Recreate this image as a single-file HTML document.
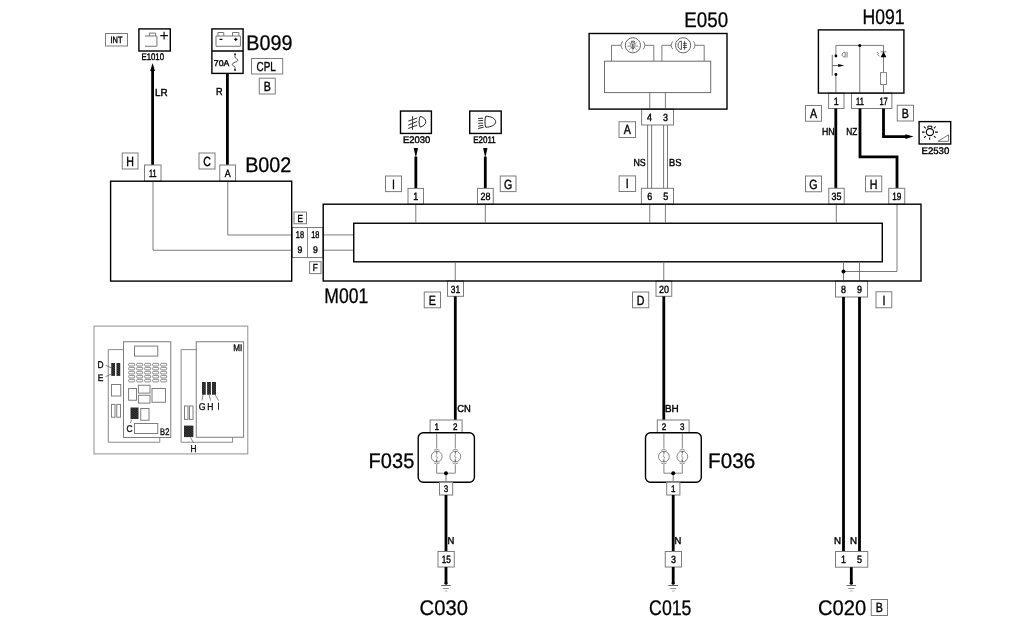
<!DOCTYPE html>
<html><head><meta charset="utf-8"><title>Wiring diagram</title>
<style>
html,body{margin:0;padding:0;background:#fff;}
body{width:1024px;height:625px;overflow:hidden;}
svg{display:block;font-family:"Liberation Sans",sans-serif;text-rendering:geometricPrecision;will-change:transform;filter:grayscale(1);}
</style></head><body>
<svg width="1024" height="625" viewBox="0 0 1024 625">
<rect x="0" y="0" width="1024" height="625" fill="#fff"/>
<rect x="105.50" y="33.50" width="22.00" height="12.50" fill="#fff" stroke="#7c7c7c" stroke-width="1"/>
<text transform="translate(116.50,43.08) scale(0.8,1)" text-anchor="middle" font-size="9.3" fill="#000" stroke="#000" stroke-width="0.4">INT</text>
<rect x="138.90" y="28.90" width="31.40" height="22.10" fill="none" stroke="#000" stroke-width="1.4"/>
<path d="M145,36 H156.9 V46.25 H145 M149.4,36 V33.1 H155.6 V36" fill="none" stroke="#777" stroke-width="1" />
<path d="M160.3,35.6 H167.9 M164.1,31.8 V39.4" fill="none" stroke="#000" stroke-width="1.1" />
<text x="141.47" y="60.35" font-size="9.6" textLength="22.49" lengthAdjust="spacingAndGlyphs" fill="#000" stroke="#000" stroke-width="0.4" font-weight="normal">E1010</text>
<path d="M152.60,69.00 L152.60,165.00" fill="none" stroke="#000" stroke-width="2.8" stroke-linejoin="miter"/>
<path d="M152.6,63 L155,71 L150.2,71 Z" fill="#000" stroke="none" stroke-width="0.9" />
<text x="154.94" y="95.55" font-size="10.2" textLength="12.66" lengthAdjust="spacingAndGlyphs" fill="#000" stroke="#000" stroke-width="0.4" font-weight="normal">LR</text>
<rect x="211.90" y="28.90" width="31.20" height="44.50" fill="none" stroke="#000" stroke-width="1.4"/>
<line x1="211.90" y1="51.00" x2="243.10" y2="51.00" stroke="#000" stroke-width="1.4"/>
<path d="M216,36 H240.4 V46.25 H216 Z M217.9,36 V32.5 H223.75 V36 M232.5,36 V32.5 H238.9 V36" fill="none" stroke="#777" stroke-width="1" />
<path d="M219.6,39.4 H222.4 M234.2,39.4 H237.4 M235.8,37.8 V41" fill="none" stroke="#000" stroke-width="1.1" />
<text x="213.86" y="65.70" font-size="8.3" textLength="15.40" lengthAdjust="spacingAndGlyphs" fill="#000" stroke="#000" stroke-width="0.4" font-weight="normal">70A</text>
<path d="M235,55 V56.9 C235,59 237.9,58.5 237.9,60.2 C237.9,62.3 232.3,62.2 232.3,64.4 C232.3,66.4 235,65.6 235,67.6 V69.4" fill="none" stroke="#444" stroke-width="0.9" />
<circle cx="235.00" cy="54.20" r="0.9" fill="#000" stroke="none" stroke-width="1"/>
<circle cx="235.00" cy="70.00" r="0.9" fill="#000" stroke="none" stroke-width="1"/>
<text x="246.34" y="49.70" font-size="21.2" textLength="46.10" lengthAdjust="spacingAndGlyphs" fill="#000" stroke="#000" stroke-width="0.3" font-weight="normal">B099</text>
<rect x="251.50" y="58.50" width="31.20" height="15.50" fill="#fff" stroke="#7c7c7c" stroke-width="1"/>
<text transform="translate(266.10,70.55) scale(0.76,1)" text-anchor="middle" font-size="13" fill="#000" stroke="#000" stroke-width="0.4">CPL</text>
<rect x="259.25" y="78.20" width="16.00" height="15.80" fill="#fff" stroke="#7c7c7c" stroke-width="1"/>
<text transform="translate(267.25,90.86) scale(0.8,1)" text-anchor="middle" font-size="13.3" fill="#000" stroke="#000" stroke-width="0.4">B</text>
<path d="M227.40,73.40 L227.40,165.00" fill="none" stroke="#000" stroke-width="2.8" stroke-linejoin="miter"/>
<text x="215.95" y="95.05" font-size="10.2" textLength="6.58" lengthAdjust="spacingAndGlyphs" fill="#000" stroke="#000" stroke-width="0.4" font-weight="normal">R</text>
<rect x="122.25" y="153.00" width="15.75" height="16.00" fill="#fff" stroke="#7c7c7c" stroke-width="1"/>
<text transform="translate(130.12,165.76) scale(0.8,1)" text-anchor="middle" font-size="13.3" fill="#000" stroke="#000" stroke-width="0.4">H</text>
<rect x="199.00" y="153.00" width="16.00" height="16.00" fill="#fff" stroke="#7c7c7c" stroke-width="1"/>
<text transform="translate(207.00,165.76) scale(0.8,1)" text-anchor="middle" font-size="13.3" fill="#000" stroke="#000" stroke-width="0.4">C</text>
<rect x="144.50" y="165.00" width="16.50" height="16.20" fill="#fff" stroke="#7c7c7c" stroke-width="1"/>
<text transform="translate(152.75,177.21) scale(0.7,1)" text-anchor="middle" font-size="10.5" fill="#000" stroke="#000" stroke-width="0.4">11</text>
<rect x="219.75" y="165.00" width="15.75" height="16.20" fill="#fff" stroke="#7c7c7c" stroke-width="1"/>
<text transform="translate(227.60,177.21) scale(0.85,1)" text-anchor="middle" font-size="10.5" fill="#000" stroke="#000" stroke-width="0.4">A</text>
<text x="245.15" y="172.20" font-size="21.2" textLength="46.21" lengthAdjust="spacingAndGlyphs" fill="#000" stroke="#000" stroke-width="0.3" font-weight="normal">B002</text>
<path d="M153,181.9 V250.25 H292.25" fill="none" stroke="#6c6c6c" stroke-width="0.9" />
<path d="M227.75,181.9 V235 H292.25" fill="none" stroke="#6c6c6c" stroke-width="0.9" />
<rect x="294.00" y="212.00" width="12.50" height="11.75" fill="#fff" stroke="#7c7c7c" stroke-width="1"/>
<text transform="translate(300.25,221.53) scale(0.8,1)" text-anchor="middle" font-size="10.2" fill="#000" stroke="#000" stroke-width="0.4">E</text>
<rect x="292.25" y="227.50" width="30.75" height="30.00" fill="#fff" stroke="#7c7c7c" stroke-width="1"/>
<line x1="307.50" y1="227.50" x2="307.50" y2="257.50" stroke="#7c7c7c" stroke-width="0.9"/>
<text transform="translate(299.90,238.40) scale(0.75,1)" text-anchor="middle" font-size="9.8" fill="#000" stroke="#000" stroke-width="0.4">18</text>
<text transform="translate(299.90,253.40) scale(0.88,1)" text-anchor="middle" font-size="9.8" fill="#000" stroke="#000" stroke-width="0.4">9</text>
<text transform="translate(315.30,238.40) scale(0.75,1)" text-anchor="middle" font-size="9.8" fill="#000" stroke="#000" stroke-width="0.4">18</text>
<text transform="translate(315.30,253.40) scale(0.88,1)" text-anchor="middle" font-size="9.8" fill="#000" stroke="#000" stroke-width="0.4">9</text>
<rect x="309.60" y="261.70" width="11.40" height="11.90" fill="#fff" stroke="#7c7c7c" stroke-width="1"/>
<text transform="translate(315.30,271.30) scale(0.8,1)" text-anchor="middle" font-size="10.2" fill="#000" stroke="#000" stroke-width="0.4">F</text>
<rect x="353.75" y="223.25" width="528.55" height="38.55" fill="none" stroke="#000" stroke-width="1.4"/>
<text x="324.31" y="302.50" font-size="21.2" textLength="43.89" lengthAdjust="spacingAndGlyphs" fill="#000" stroke="#000" stroke-width="0.3" font-weight="normal">M001</text>
<line x1="323.90" y1="234.90" x2="353.00" y2="234.90" stroke="#6c6c6c" stroke-width="0.9"/>
<line x1="323.90" y1="250.20" x2="353.00" y2="250.20" stroke="#6c6c6c" stroke-width="0.9"/>
<line x1="415.80" y1="204.90" x2="415.80" y2="222.60" stroke="#6c6c6c" stroke-width="0.9"/>
<line x1="485.30" y1="204.90" x2="485.30" y2="222.60" stroke="#6c6c6c" stroke-width="0.9"/>
<line x1="649.75" y1="204.90" x2="649.75" y2="222.60" stroke="#6c6c6c" stroke-width="0.9"/>
<line x1="665.40" y1="204.90" x2="665.40" y2="222.60" stroke="#6c6c6c" stroke-width="0.9"/>
<line x1="836.30" y1="204.90" x2="836.30" y2="222.60" stroke="#6c6c6c" stroke-width="0.9"/>
<line x1="455.25" y1="262.50" x2="455.25" y2="280.30" stroke="#6c6c6c" stroke-width="0.9"/>
<line x1="663.75" y1="262.50" x2="663.75" y2="280.30" stroke="#6c6c6c" stroke-width="0.9"/>
<line x1="843.50" y1="262.50" x2="843.50" y2="280.30" stroke="#6c6c6c" stroke-width="0.9"/>
<line x1="859.50" y1="262.50" x2="859.50" y2="280.30" stroke="#6c6c6c" stroke-width="0.9"/>
<path d="M897,204.9 V271.5 H843.5" fill="none" stroke="#6c6c6c" stroke-width="0.9" />
<circle cx="843.50" cy="271.50" r="2.0" fill="#000" stroke="none" stroke-width="1"/>
<rect x="400.50" y="111.05" width="30.90" height="22.40" fill="none" stroke="#000" stroke-width="1.4"/>
<path d="M420.2,116.4 C418.7,119 418.7,124.4 420.2,127.1 C423.5,126.4 425.8,124 425.8,121.7 C425.8,119.5 423.5,117 420.2,116.4 Z" fill="none" stroke="#222" stroke-width="1" />
<path d="M417.2,118 L408.3,121.1 M417.2,121.4 L408.2,125.2 M417.2,125.2 L408.2,128.5 M412.7,116.1 C412.2,119 413,122 412.4,125 C412.2,127 412.7,128.5 412.5,129.8" fill="none" stroke="#222" stroke-width="0.95" />
<text x="403.03" y="142.90" font-size="9.6" textLength="27.32" lengthAdjust="spacingAndGlyphs" fill="#000" stroke="#000" stroke-width="0.4" font-weight="normal">E2030</text>
<rect x="469.70" y="111.05" width="31.50" height="22.40" fill="none" stroke="#000" stroke-width="1.4"/>
<path d="M485.7,116.3 C484.7,119 484.7,124.5 485.7,127.2 C490.6,127.3 495.7,125 495.7,121.7 C495.7,118.5 490.6,116.1 485.7,116.3 Z" fill="none" stroke="#222" stroke-width="1" />
<path d="M483.1,118.2 L478.1,118.5 M483.1,120.4 L478.2,120.8 M483.1,123.1 L478.2,123.4 M483.2,125.3 L478.2,126.2 M483.7,127.2 L478.2,128.5" fill="none" stroke="#222" stroke-width="0.95" />
<text x="473.15" y="142.90" font-size="9.6" textLength="22.60" lengthAdjust="spacingAndGlyphs" fill="#000" stroke="#000" stroke-width="0.4" font-weight="normal">E2011</text>
<path d="M415.85,156.60 L415.85,188.50" fill="none" stroke="#000" stroke-width="2.8" stroke-linejoin="miter"/>
<path d="M413.65000000000003,148.1 H418.05 L416.1,156.8 H415.6 Z" fill="#000" stroke="none" stroke-width="0.9" />
<path d="M485.30,156.60 L485.30,188.50" fill="none" stroke="#000" stroke-width="2.8" stroke-linejoin="miter"/>
<path d="M483.1,148.1 H487.5 L485.55,156.8 H485.05 Z" fill="#000" stroke="none" stroke-width="0.9" />
<rect x="385.50" y="176.00" width="16.00" height="15.60" fill="#fff" stroke="#7c7c7c" stroke-width="1"/>
<text transform="translate(393.50,188.56) scale(0.8,1)" text-anchor="middle" font-size="13.3" fill="#000" stroke="#000" stroke-width="0.4">I</text>
<rect x="500.25" y="176.00" width="15.75" height="15.60" fill="#fff" stroke="#7c7c7c" stroke-width="1"/>
<text transform="translate(508.12,188.56) scale(0.8,1)" text-anchor="middle" font-size="13.3" fill="#000" stroke="#000" stroke-width="0.4">G</text>
<rect x="408.00" y="188.40" width="15.50" height="15.80" fill="#fff" stroke="#7c7c7c" stroke-width="1"/>
<text transform="translate(415.80,200.41) scale(0.85,1)" text-anchor="middle" font-size="10.5" fill="#000" stroke="#000" stroke-width="0.4">1</text>
<rect x="477.50" y="188.40" width="15.75" height="15.80" fill="#fff" stroke="#7c7c7c" stroke-width="1"/>
<text transform="translate(485.40,200.41) scale(0.85,1)" text-anchor="middle" font-size="10.5" fill="#000" stroke="#000" stroke-width="0.4">28</text>
<text x="684.34" y="27.00" font-size="21.2" textLength="43.85" lengthAdjust="spacingAndGlyphs" fill="#000" stroke="#000" stroke-width="0.3" font-weight="normal">E050</text>
<rect x="604.50" y="61.20" width="106.20" height="31.40" fill="none" stroke="#6c6c6c" stroke-width="1"/>
<path d="M611.5,61.2 V45.3 H620.8 M645.0,45.3 H653.8 V61.2" fill="none" stroke="#6c6c6c" stroke-width="0.9" />
<circle cx="632.90" cy="45.30" r="7.6" fill="none" stroke="#666" stroke-width="1"/>
<path d="M622.6,41.3 Q619.3,45.3 622.6,49.2 M643.1999999999999,41.3 Q646.5,45.3 643.1999999999999,49.2" fill="none" stroke="#666" stroke-width="0.9" />
<path d="M661.9,61.2 V45.3 H671.0 M695.2,45.3 H704.2 V61.2" fill="none" stroke="#6c6c6c" stroke-width="0.9" />
<circle cx="683.10" cy="45.30" r="7.6" fill="none" stroke="#666" stroke-width="1"/>
<path d="M672.8000000000001,41.3 Q669.5,45.3 672.8000000000001,49.2 M693.4,41.3 Q696.7,45.3 693.4,49.2" fill="none" stroke="#666" stroke-width="0.9" />
<ellipse cx="632.9" cy="45.3" rx="2.2" ry="3.4" fill="none" stroke="#444" stroke-width="0.8"/>
<path d="M631.3,42.4 V41.2 H634.5 V42.4" fill="none" stroke="#444" stroke-width="0.8" />
<path d="M632.9,43.4 V48.6" fill="none" stroke="#222" stroke-width="1.1" />
<path d="M632.9,48.8 V51.6" fill="none" stroke="#888" stroke-width="0.8" />
<path d="M627.3,46.2 H629.9 M635.9,46.2 H638.4 M628.7,42.3 L630.4,43.8 M637,42.3 L635.4,43.8 M629,49.8 L630.4,48.6 M636.7,49.8 L635.3,48.6" fill="none" stroke="#666" stroke-width="0.7" />
<path d="M681.4,41.1 V49.5 C676.9,49.3 676.9,41.3 681.4,41.1 Z" fill="none" stroke="#444" stroke-width="0.9" />
<path d="M684.6,40.9 V49.8 M683,43.4 H686.9 M683,45.4 H686.9 M683,47.5 H686.9" fill="none" stroke="#333" stroke-width="0.85" />
<line x1="649.75" y1="92.60" x2="649.75" y2="108.40" stroke="#6c6c6c" stroke-width="0.9"/>
<line x1="665.40" y1="92.60" x2="665.40" y2="108.40" stroke="#6c6c6c" stroke-width="0.9"/>
<rect x="641.60" y="109.20" width="31.90" height="15.80" fill="#fff" stroke="#7c7c7c" stroke-width="1"/>
<text transform="translate(649.60,121.21) scale(0.85,1)" text-anchor="middle" font-size="10.5" fill="#000" stroke="#000" stroke-width="0.4">4</text>
<text transform="translate(665.60,121.21) scale(0.85,1)" text-anchor="middle" font-size="10.5" fill="#000" stroke="#000" stroke-width="0.4">3</text>
<rect x="619.00" y="121.75" width="16.50" height="15.75" fill="#fff" stroke="#7c7c7c" stroke-width="1"/>
<text transform="translate(627.25,134.39) scale(0.8,1)" text-anchor="middle" font-size="13.3" fill="#000" stroke="#000" stroke-width="0.4">A</text>
<line x1="647.60" y1="125.00" x2="647.60" y2="188.30" stroke="#777" stroke-width="1"/>
<line x1="651.60" y1="125.00" x2="651.60" y2="188.30" stroke="#777" stroke-width="1"/>
<line x1="663.60" y1="125.00" x2="663.60" y2="188.30" stroke="#777" stroke-width="1"/>
<line x1="667.50" y1="125.00" x2="667.50" y2="188.30" stroke="#777" stroke-width="1"/>
<text x="633.43" y="166.15" font-size="10.2" textLength="12.25" lengthAdjust="spacingAndGlyphs" fill="#000" stroke="#000" stroke-width="0.4" font-weight="normal">NS</text>
<text x="669.12" y="166.15" font-size="10.2" textLength="12.50" lengthAdjust="spacingAndGlyphs" fill="#000" stroke="#000" stroke-width="0.4" font-weight="normal">BS</text>
<rect x="619.10" y="175.90" width="16.50" height="15.60" fill="#fff" stroke="#7c7c7c" stroke-width="1"/>
<text transform="translate(627.35,188.46) scale(0.8,1)" text-anchor="middle" font-size="13.3" fill="#000" stroke="#000" stroke-width="0.4">I</text>
<rect x="641.40" y="188.30" width="32.10" height="15.90" fill="#fff" stroke="#7c7c7c" stroke-width="1"/>
<text transform="translate(649.75,200.36) scale(0.85,1)" text-anchor="middle" font-size="10.5" fill="#000" stroke="#000" stroke-width="0.4">6</text>
<text transform="translate(665.75,200.36) scale(0.85,1)" text-anchor="middle" font-size="10.5" fill="#000" stroke="#000" stroke-width="0.4">5</text>
<text x="862.43" y="24.00" font-size="21.2" textLength="42.08" lengthAdjust="spacingAndGlyphs" fill="#000" stroke="#000" stroke-width="0.3" font-weight="normal">H091</text>
<path d="M835.9,56 V45.4 H883.5 V93 M859.75,45.4 V93 M835.9,74.5 V93" fill="none" stroke="#6c6c6c" stroke-width="0.9" />
<circle cx="859.75" cy="45.40" r="1.5" fill="#000" stroke="none" stroke-width="1"/>
<circle cx="835.90" cy="56.00" r="1.4" fill="#000" stroke="none" stroke-width="1"/>
<circle cx="835.90" cy="74.50" r="1.4" fill="#000" stroke="none" stroke-width="1"/>
<path d="M832.25,55 V75.75 M832.25,65.5 H839" fill="none" stroke="#5a5a5a" stroke-width="0.85" />
<path d="M838.2,64.0 L844.4,65.5 L838.2,67.0 Z" fill="#000" stroke="none" stroke-width="0.9" />
<path d="M845.2,52.2 C841,52.6 841,56.9 845.2,57.2 Z M847.1,52 V57.4" fill="none" stroke="#555" stroke-width="0.75" />
<path d="M883.5,51.6 L886.4,57.25 H880.6 Z" fill="#000" stroke="none" stroke-width="0.9" />
<line x1="880.60" y1="51.80" x2="886.50" y2="51.80" stroke="#444" stroke-width="0.7"/>
<path d="M876.8,52 L878.8,54 M877.4,54.4 L879.4,56.2" fill="none" stroke="#444" stroke-width="0.7" />
<rect x="880.50" y="72.60" width="6.00" height="11.90" fill="#fff" stroke="#858585" stroke-width="1"/>
<rect x="828.60" y="93.10" width="15.40" height="15.40" fill="#fff" stroke="#7c7c7c" stroke-width="1"/>
<text transform="translate(836.20,104.91) scale(0.85,1)" text-anchor="middle" font-size="10.5" fill="#000" stroke="#000" stroke-width="0.4">1</text>
<rect x="851.50" y="93.10" width="40.40" height="15.40" fill="#fff" stroke="#7c7c7c" stroke-width="1"/>
<text transform="translate(860.00,104.91) scale(0.72,1)" text-anchor="middle" font-size="10.5" fill="#000" stroke="#000" stroke-width="0.4">11</text>
<text transform="translate(883.60,104.91) scale(0.72,1)" text-anchor="middle" font-size="10.5" fill="#000" stroke="#000" stroke-width="0.4">17</text>
<rect x="805.50" y="105.50" width="16.00" height="15.75" fill="#fff" stroke="#7c7c7c" stroke-width="1"/>
<text transform="translate(813.50,118.14) scale(0.8,1)" text-anchor="middle" font-size="13.3" fill="#000" stroke="#000" stroke-width="0.4">A</text>
<rect x="897.25" y="105.25" width="16.25" height="15.75" fill="#fff" stroke="#7c7c7c" stroke-width="1"/>
<text transform="translate(905.38,117.89) scale(0.8,1)" text-anchor="middle" font-size="13.3" fill="#000" stroke="#000" stroke-width="0.4">B</text>
<path d="M835.80,108.50 L835.80,188.30" fill="none" stroke="#000" stroke-width="2.8" stroke-linejoin="miter"/>
<path d="M860.00,108.50 L860.00,156.80 L897.00,156.80 L897.00,188.30" fill="none" stroke="#000" stroke-width="2.8" stroke-linejoin="miter"/>
<path d="M883.50,108.50 L883.50,136.60 L907.00,136.60" fill="none" stroke="#000" stroke-width="2.8" stroke-linejoin="miter"/>
<path d="M905.4,134.3 L913.6,136.6 L905.4,138.9 Z" fill="#000" stroke="none" stroke-width="0.9" />
<text x="822.04" y="134.55" font-size="10.2" textLength="12.68" lengthAdjust="spacingAndGlyphs" fill="#000" stroke="#000" stroke-width="0.4" font-weight="normal">HN</text>
<text x="846.33" y="134.55" font-size="10.2" textLength="11.06" lengthAdjust="spacingAndGlyphs" fill="#000" stroke="#000" stroke-width="0.4" font-weight="normal">NZ</text>
<rect x="919.10" y="121.60" width="31.60" height="22.40" fill="none" stroke="#000" stroke-width="1.4"/>
<ellipse cx="929.9" cy="132.1" rx="3.65" ry="3.55" fill="none" stroke="#000" stroke-width="1.15"/>
<path d="M927.9,128.4 V126.2 H931.8 V128.4" fill="none" stroke="#000" stroke-width="1" />
<path d="M922,132.1 H924.6 M935.1,132.1 H937.8 M929.7,137.6 V139.8 M924,126.5 L925.7,128.3 M935.6,126.5 L934,128.3 M924.2,137.6 L925.8,136.1 M935.6,137.6 L934,136.1" fill="none" stroke="#000" stroke-width="1.05" />
<path d="M937.9,141.3 H948.6 V134.8 Z" fill="none" stroke="#666" stroke-width="0.9" />
<text x="921.59" y="153.50" font-size="9.6" textLength="27.64" lengthAdjust="spacingAndGlyphs" fill="#000" stroke="#000" stroke-width="0.4" font-weight="normal">E2530</text>
<rect x="805.50" y="176.00" width="16.00" height="15.75" fill="#fff" stroke="#7c7c7c" stroke-width="1"/>
<text transform="translate(813.50,188.64) scale(0.8,1)" text-anchor="middle" font-size="13.3" fill="#000" stroke="#000" stroke-width="0.4">G</text>
<rect x="865.50" y="176.00" width="16.25" height="15.75" fill="#fff" stroke="#7c7c7c" stroke-width="1"/>
<text transform="translate(873.62,188.64) scale(0.8,1)" text-anchor="middle" font-size="13.3" fill="#000" stroke="#000" stroke-width="0.4">H</text>
<rect x="828.75" y="188.30" width="15.50" height="15.90" fill="#fff" stroke="#7c7c7c" stroke-width="1"/>
<text transform="translate(836.50,200.36) scale(0.85,1)" text-anchor="middle" font-size="10.5" fill="#000" stroke="#000" stroke-width="0.4">35</text>
<rect x="888.75" y="188.30" width="16.00" height="15.90" fill="#fff" stroke="#7c7c7c" stroke-width="1"/>
<text transform="translate(896.80,200.36) scale(0.78,1)" text-anchor="middle" font-size="10.5" fill="#000" stroke="#000" stroke-width="0.4">19</text>
<rect x="447.50" y="281.00" width="16.00" height="15.30" fill="#fff" stroke="#7c7c7c" stroke-width="1"/>
<text transform="translate(455.50,292.76) scale(0.8,1)" text-anchor="middle" font-size="10.5" fill="#000" stroke="#000" stroke-width="0.4">31</text>
<rect x="424.25" y="292.00" width="16.25" height="15.75" fill="#fff" stroke="#7c7c7c" stroke-width="1"/>
<text transform="translate(432.38,304.64) scale(0.8,1)" text-anchor="middle" font-size="13.3" fill="#000" stroke="#000" stroke-width="0.4">E</text>
<path d="M455.30,296.30 L455.30,420.00" fill="none" stroke="#000" stroke-width="2.8" stroke-linejoin="miter"/>
<text x="457.18" y="412.15" font-size="10.2" textLength="13.60" lengthAdjust="spacingAndGlyphs" fill="#000" stroke="#000" stroke-width="0.4" font-weight="normal">CN</text>
<rect x="656.00" y="281.00" width="15.75" height="15.30" fill="#fff" stroke="#7c7c7c" stroke-width="1"/>
<text transform="translate(663.90,292.76) scale(0.85,1)" text-anchor="middle" font-size="10.5" fill="#000" stroke="#000" stroke-width="0.4">20</text>
<rect x="632.50" y="292.00" width="16.25" height="15.75" fill="#fff" stroke="#7c7c7c" stroke-width="1"/>
<text transform="translate(640.62,304.64) scale(0.8,1)" text-anchor="middle" font-size="13.3" fill="#000" stroke="#000" stroke-width="0.4">D</text>
<path d="M663.80,296.30 L663.80,420.00" fill="none" stroke="#000" stroke-width="2.8" stroke-linejoin="miter"/>
<text x="664.93" y="412.15" font-size="10.2" textLength="13.81" lengthAdjust="spacingAndGlyphs" fill="#000" stroke="#000" stroke-width="0.4" font-weight="normal">BH</text>
<rect x="835.50" y="281.00" width="32.00" height="16.00" fill="#fff" stroke="#7c7c7c" stroke-width="1"/>
<text transform="translate(843.50,293.11) scale(0.85,1)" text-anchor="middle" font-size="10.5" fill="#000" stroke="#000" stroke-width="0.4">8</text>
<text transform="translate(859.50,293.11) scale(0.85,1)" text-anchor="middle" font-size="10.5" fill="#000" stroke="#000" stroke-width="0.4">9</text>
<rect x="876.00" y="291.75" width="15.75" height="16.00" fill="#fff" stroke="#7c7c7c" stroke-width="1"/>
<text transform="translate(883.88,304.51) scale(0.8,1)" text-anchor="middle" font-size="13.3" fill="#000" stroke="#000" stroke-width="0.4">I</text>
<path d="M843.50,297.00 L843.50,551.50" fill="none" stroke="#000" stroke-width="2.8" stroke-linejoin="miter"/>
<path d="M859.50,297.00 L859.50,551.50" fill="none" stroke="#000" stroke-width="2.8" stroke-linejoin="miter"/>
<rect x="430.10" y="420.00" width="32.00" height="13.00" fill="#fff" stroke="#7c7c7c" stroke-width="1"/>
<text transform="translate(436.70,430.25) scale(0.85,1)" text-anchor="middle" font-size="9.5" fill="#000" stroke="#000" stroke-width="0.4">1</text>
<text transform="translate(455.30,430.25) scale(0.85,1)" text-anchor="middle" font-size="9.5" fill="#000" stroke="#000" stroke-width="0.4">2</text>
<rect x="418.20" y="432.80" width="56.20" height="49.40" fill="#fff" stroke="#000" stroke-width="1.4" rx="5"/>
<line x1="436.70" y1="433.50" x2="436.70" y2="448.60" stroke="#777" stroke-width="0.9"/>
<circle cx="436.70" cy="456.60" r="5.4" fill="none" stroke="#777" stroke-width="0.9"/>
<path d="M433.9,450.3 Q436.7,448.2 439.5,450.3 M433.9,463 Q436.7,465 439.5,463" fill="none" stroke="#777" stroke-width="0.8" />
<path d="M436.7,451.2 V453.6 M436.7,459.6 V462" fill="none" stroke="#555" stroke-width="1.1" />
<path d="M437.09999999999997,453.8 L435.8,456.4 L437.5,457 L436.4,459.6" fill="none" stroke="#888" stroke-width="0.7" />
<line x1="436.70" y1="464.60" x2="436.70" y2="473.20" stroke="#777" stroke-width="0.9"/>
<line x1="455.30" y1="433.50" x2="455.30" y2="448.60" stroke="#777" stroke-width="0.9"/>
<circle cx="455.30" cy="456.60" r="5.4" fill="none" stroke="#777" stroke-width="0.9"/>
<path d="M452.5,450.3 Q455.3,448.2 458.1,450.3 M452.5,463 Q455.3,465 458.1,463" fill="none" stroke="#777" stroke-width="0.8" />
<path d="M455.3,451.2 V453.6 M455.3,459.6 V462" fill="none" stroke="#555" stroke-width="1.1" />
<path d="M455.7,453.8 L454.40000000000003,456.4 L456.1,457 L455.0,459.6" fill="none" stroke="#888" stroke-width="0.7" />
<line x1="455.30" y1="464.60" x2="455.30" y2="473.20" stroke="#777" stroke-width="0.9"/>
<line x1="436.70" y1="473.20" x2="455.30" y2="473.20" stroke="#777" stroke-width="0.9"/>
<line x1="446.00" y1="473.20" x2="446.00" y2="481.50" stroke="#888" stroke-width="1.1"/>
<circle cx="446.00" cy="473.20" r="2" fill="#000" stroke="none" stroke-width="1"/>
<rect x="439.50" y="482.20" width="13.20" height="12.80" fill="#fff" stroke="#7c7c7c" stroke-width="1"/>
<text transform="translate(446.00,492.35) scale(0.85,1)" text-anchor="middle" font-size="9.5" fill="#000" stroke="#000" stroke-width="0.4">3</text>
<rect x="657.30" y="420.00" width="31.80" height="13.00" fill="#fff" stroke="#7c7c7c" stroke-width="1"/>
<text transform="translate(663.90,430.25) scale(0.85,1)" text-anchor="middle" font-size="9.5" fill="#000" stroke="#000" stroke-width="0.4">2</text>
<text transform="translate(682.30,430.25) scale(0.85,1)" text-anchor="middle" font-size="9.5" fill="#000" stroke="#000" stroke-width="0.4">3</text>
<rect x="645.50" y="432.80" width="55.80" height="49.40" fill="#fff" stroke="#000" stroke-width="1.4" rx="5"/>
<line x1="663.90" y1="433.50" x2="663.90" y2="448.60" stroke="#777" stroke-width="0.9"/>
<circle cx="663.90" cy="456.60" r="5.4" fill="none" stroke="#777" stroke-width="0.9"/>
<path d="M661.1,450.3 Q663.9,448.2 666.6999999999999,450.3 M661.1,463 Q663.9,465 666.6999999999999,463" fill="none" stroke="#777" stroke-width="0.8" />
<path d="M663.9,451.2 V453.6 M663.9,459.6 V462" fill="none" stroke="#555" stroke-width="1.1" />
<path d="M664.3,453.8 L663.0,456.4 L664.6999999999999,457 L663.6,459.6" fill="none" stroke="#888" stroke-width="0.7" />
<line x1="663.90" y1="464.60" x2="663.90" y2="473.20" stroke="#777" stroke-width="0.9"/>
<line x1="682.30" y1="433.50" x2="682.30" y2="448.60" stroke="#777" stroke-width="0.9"/>
<circle cx="682.30" cy="456.60" r="5.4" fill="none" stroke="#777" stroke-width="0.9"/>
<path d="M679.5,450.3 Q682.3,448.2 685.0999999999999,450.3 M679.5,463 Q682.3,465 685.0999999999999,463" fill="none" stroke="#777" stroke-width="0.8" />
<path d="M682.3,451.2 V453.6 M682.3,459.6 V462" fill="none" stroke="#555" stroke-width="1.1" />
<path d="M682.6999999999999,453.8 L681.4,456.4 L683.0999999999999,457 L682.0,459.6" fill="none" stroke="#888" stroke-width="0.7" />
<line x1="682.30" y1="464.60" x2="682.30" y2="473.20" stroke="#777" stroke-width="0.9"/>
<line x1="663.90" y1="473.20" x2="682.30" y2="473.20" stroke="#777" stroke-width="0.9"/>
<line x1="673.20" y1="473.20" x2="673.20" y2="481.50" stroke="#888" stroke-width="1.1"/>
<circle cx="673.20" cy="473.20" r="2" fill="#000" stroke="none" stroke-width="1"/>
<rect x="666.70" y="482.20" width="13.20" height="12.80" fill="#fff" stroke="#7c7c7c" stroke-width="1"/>
<text transform="translate(673.20,492.35) scale(0.85,1)" text-anchor="middle" font-size="9.5" fill="#000" stroke="#000" stroke-width="0.4">1</text>
<text x="368.62" y="467.70" font-size="21.2" textLength="45.68" lengthAdjust="spacingAndGlyphs" fill="#000" stroke="#000" stroke-width="0.3" font-weight="normal">F035</text>
<text x="708.08" y="467.70" font-size="21.2" textLength="47.08" lengthAdjust="spacingAndGlyphs" fill="#000" stroke="#000" stroke-width="0.3" font-weight="normal">F036</text>
<path d="M446.00,495.00 L446.00,551.50" fill="none" stroke="#000" stroke-width="2.8" stroke-linejoin="miter"/>
<text x="447.52" y="543.95" font-size="9.9" textLength="6.81" lengthAdjust="spacingAndGlyphs" fill="#000" stroke="#000" stroke-width="0.4" font-weight="normal">N</text>
<rect x="438.00" y="551.50" width="16.25" height="15.50" fill="#fff" stroke="#7c7c7c" stroke-width="1"/>
<text transform="translate(446.20,563.36) scale(0.78,1)" text-anchor="middle" font-size="10.5" fill="#000" stroke="#000" stroke-width="0.4">15</text>
<path d="M446.00,567.00 L446.00,583.00" fill="none" stroke="#000" stroke-width="2.8" stroke-linejoin="miter"/>
<circle cx="446.00" cy="583.20" r="1.6" fill="#000" stroke="none" stroke-width="1"/>
<line x1="441.20" y1="585.50" x2="450.80" y2="585.50" stroke="#555" stroke-width="0.9"/>
<line x1="442.90" y1="588.50" x2="449.10" y2="588.50" stroke="#777" stroke-width="0.8"/>
<line x1="444.70" y1="591.00" x2="447.30" y2="591.00" stroke="#999" stroke-width="0.8"/>
<text x="419.62" y="615.00" font-size="21.2" textLength="48.28" lengthAdjust="spacingAndGlyphs" fill="#000" stroke="#000" stroke-width="0.3" font-weight="normal">C030</text>
<path d="M673.20,495.00 L673.20,551.50" fill="none" stroke="#000" stroke-width="2.8" stroke-linejoin="miter"/>
<text x="674.52" y="543.95" font-size="9.9" textLength="6.81" lengthAdjust="spacingAndGlyphs" fill="#000" stroke="#000" stroke-width="0.4" font-weight="normal">N</text>
<rect x="665.25" y="551.50" width="16.25" height="15.50" fill="#fff" stroke="#7c7c7c" stroke-width="1"/>
<text transform="translate(673.40,563.36) scale(0.85,1)" text-anchor="middle" font-size="10.5" fill="#000" stroke="#000" stroke-width="0.4">3</text>
<path d="M673.20,567.00 L673.20,583.00" fill="none" stroke="#000" stroke-width="2.8" stroke-linejoin="miter"/>
<circle cx="673.20" cy="583.20" r="1.6" fill="#000" stroke="none" stroke-width="1"/>
<line x1="668.40" y1="585.50" x2="678.00" y2="585.50" stroke="#555" stroke-width="0.9"/>
<line x1="670.10" y1="588.50" x2="676.30" y2="588.50" stroke="#777" stroke-width="0.8"/>
<line x1="671.90" y1="591.00" x2="674.50" y2="591.00" stroke="#999" stroke-width="0.8"/>
<text x="649.08" y="615.00" font-size="21.2" textLength="42.39" lengthAdjust="spacingAndGlyphs" fill="#000" stroke="#000" stroke-width="0.3" font-weight="normal">C015</text>
<text x="834.11" y="543.80" font-size="9.9" textLength="7.04" lengthAdjust="spacingAndGlyphs" fill="#000" stroke="#000" stroke-width="0.4" font-weight="normal">N</text>
<text x="850.11" y="543.80" font-size="9.9" textLength="7.04" lengthAdjust="spacingAndGlyphs" fill="#000" stroke="#000" stroke-width="0.4" font-weight="normal">N</text>
<rect x="835.50" y="551.50" width="32.25" height="15.70" fill="#fff" stroke="#7c7c7c" stroke-width="1"/>
<text transform="translate(843.50,563.46) scale(0.85,1)" text-anchor="middle" font-size="10.5" fill="#000" stroke="#000" stroke-width="0.4">1</text>
<text transform="translate(859.60,563.46) scale(0.85,1)" text-anchor="middle" font-size="10.5" fill="#000" stroke="#000" stroke-width="0.4">5</text>
<path d="M851.30,567.20 L851.30,583.00" fill="none" stroke="#000" stroke-width="2.8" stroke-linejoin="miter"/>
<circle cx="851.30" cy="583.20" r="1.6" fill="#000" stroke="none" stroke-width="1"/>
<line x1="846.50" y1="585.50" x2="856.10" y2="585.50" stroke="#555" stroke-width="0.9"/>
<line x1="848.20" y1="588.50" x2="854.40" y2="588.50" stroke="#777" stroke-width="0.8"/>
<line x1="850.00" y1="591.00" x2="852.60" y2="591.00" stroke="#999" stroke-width="0.8"/>
<text x="817.90" y="615.00" font-size="21.2" textLength="48.24" lengthAdjust="spacingAndGlyphs" fill="#000" stroke="#000" stroke-width="0.3" font-weight="normal">C020</text>
<rect x="871.25" y="599.50" width="16.25" height="16.00" fill="#fff" stroke="#7c7c7c" stroke-width="1"/>
<text transform="translate(879.38,612.26) scale(0.8,1)" text-anchor="middle" font-size="13.3" fill="#000" stroke="#000" stroke-width="0.4">B</text>
<rect x="110.60" y="181.20" width="181.10" height="99.90" fill="none" stroke="#000" stroke-width="1.4"/>
<rect x="323.20" y="204.20" width="597.80" height="76.80" fill="none" stroke="#000" stroke-width="1.4"/>
<rect x="589.10" y="33.50" width="137.90" height="75.60" fill="none" stroke="#000" stroke-width="1.4"/>
<rect x="818.40" y="29.90" width="85.50" height="63.20" fill="none" stroke="#000" stroke-width="1.4"/>
<defs><pattern id="hatch" width="1.6" height="1.6" patternUnits="userSpaceOnUse" patternTransform="rotate(60)"><rect width="1.6" height="1.6" fill="#1c1c1c"/><rect width="0.45" height="1.6" fill="#5a5a5a"/></pattern></defs>
<rect x="94.00" y="326.10" width="153.80" height="127.80" fill="none" stroke="#8f8f8f" stroke-width="1"/>
<path d="M123.5,349.6 H108.25 V442.25 H159.75 V437.5" fill="none" stroke="#7d7d7d" stroke-width="0.9" />
<rect x="123.50" y="341.75" width="47.25" height="95.75" fill="none" stroke="#7d7d7d" stroke-width="1"/>
<rect x="134.50" y="346.10" width="23.25" height="10.00" fill="none" stroke="#7d7d7d" stroke-width="1"/>
<rect x="128.70" y="363.40" width="6.00" height="2.50" fill="none" stroke="#7d7d7d" stroke-width="0.9" rx="0.8"/>
<rect x="136.70" y="363.40" width="6.00" height="2.50" fill="none" stroke="#7d7d7d" stroke-width="0.9" rx="0.8"/>
<rect x="144.70" y="363.40" width="6.00" height="2.50" fill="none" stroke="#7d7d7d" stroke-width="0.9" rx="0.8"/>
<rect x="152.70" y="363.40" width="6.00" height="2.50" fill="none" stroke="#7d7d7d" stroke-width="0.9" rx="0.8"/>
<rect x="160.70" y="363.40" width="6.00" height="2.50" fill="none" stroke="#7d7d7d" stroke-width="0.9" rx="0.8"/>
<rect x="128.70" y="367.40" width="6.00" height="2.50" fill="none" stroke="#7d7d7d" stroke-width="0.9" rx="0.8"/>
<rect x="136.70" y="367.40" width="6.00" height="2.50" fill="none" stroke="#7d7d7d" stroke-width="0.9" rx="0.8"/>
<rect x="144.70" y="367.40" width="6.00" height="2.50" fill="none" stroke="#7d7d7d" stroke-width="0.9" rx="0.8"/>
<rect x="152.70" y="367.40" width="6.00" height="2.50" fill="none" stroke="#7d7d7d" stroke-width="0.9" rx="0.8"/>
<rect x="160.70" y="367.40" width="6.00" height="2.50" fill="none" stroke="#7d7d7d" stroke-width="0.9" rx="0.8"/>
<rect x="128.70" y="371.40" width="6.00" height="2.50" fill="none" stroke="#7d7d7d" stroke-width="0.9" rx="0.8"/>
<rect x="136.70" y="371.40" width="6.00" height="2.50" fill="none" stroke="#7d7d7d" stroke-width="0.9" rx="0.8"/>
<rect x="144.70" y="371.40" width="6.00" height="2.50" fill="none" stroke="#7d7d7d" stroke-width="0.9" rx="0.8"/>
<rect x="152.70" y="371.40" width="6.00" height="2.50" fill="none" stroke="#7d7d7d" stroke-width="0.9" rx="0.8"/>
<rect x="160.70" y="371.40" width="6.00" height="2.50" fill="none" stroke="#7d7d7d" stroke-width="0.9" rx="0.8"/>
<rect x="128.70" y="375.40" width="6.00" height="2.50" fill="none" stroke="#7d7d7d" stroke-width="0.9" rx="0.8"/>
<rect x="136.70" y="375.40" width="6.00" height="2.50" fill="none" stroke="#7d7d7d" stroke-width="0.9" rx="0.8"/>
<rect x="144.70" y="375.40" width="6.00" height="2.50" fill="none" stroke="#7d7d7d" stroke-width="0.9" rx="0.8"/>
<rect x="152.70" y="375.40" width="6.00" height="2.50" fill="none" stroke="#7d7d7d" stroke-width="0.9" rx="0.8"/>
<rect x="160.70" y="375.40" width="6.00" height="2.50" fill="none" stroke="#7d7d7d" stroke-width="0.9" rx="0.8"/>
<rect x="128.70" y="379.40" width="6.00" height="2.50" fill="none" stroke="#7d7d7d" stroke-width="0.9" rx="0.8"/>
<rect x="136.70" y="379.40" width="6.00" height="2.50" fill="none" stroke="#7d7d7d" stroke-width="0.9" rx="0.8"/>
<rect x="144.70" y="379.40" width="6.00" height="2.50" fill="none" stroke="#7d7d7d" stroke-width="0.9" rx="0.8"/>
<rect x="152.70" y="379.40" width="6.00" height="2.50" fill="none" stroke="#7d7d7d" stroke-width="0.9" rx="0.8"/>
<rect x="160.70" y="379.40" width="6.00" height="2.50" fill="none" stroke="#7d7d7d" stroke-width="0.9" rx="0.8"/>
<rect x="128.60" y="388.50" width="7.90" height="11.75" fill="none" stroke="#7d7d7d" stroke-width="1"/>
<rect x="138.40" y="385.25" width="11.60" height="7.85" fill="none" stroke="#7d7d7d" stroke-width="1"/>
<rect x="138.40" y="395.25" width="11.60" height="7.85" fill="none" stroke="#7d7d7d" stroke-width="1"/>
<rect x="152.00" y="388.50" width="13.50" height="13.75" fill="none" stroke="#7d7d7d" stroke-width="1"/>
<rect x="130.50" y="407.50" width="8.00" height="11.50" fill="url(#hatch)" stroke="none" stroke-width="1.4"/>
<rect x="140.75" y="408.50" width="8.25" height="11.75" fill="none" stroke="#7d7d7d" stroke-width="1"/>
<rect x="134.50" y="423.50" width="23.25" height="10.00" fill="none" stroke="#7d7d7d" stroke-width="1"/>
<rect x="111.50" y="384.50" width="9.25" height="11.50" fill="none" stroke="#7d7d7d" stroke-width="1"/>
<rect x="111.50" y="404.40" width="3.50" height="12.85" fill="none" stroke="#7d7d7d" stroke-width="1"/>
<rect x="116.75" y="404.40" width="3.75" height="12.85" fill="none" stroke="#7d7d7d" stroke-width="1"/>
<rect x="111.25" y="363.00" width="3.75" height="12.90" fill="url(#hatch)" stroke="none" stroke-width="1.4"/>
<rect x="116.50" y="363.00" width="3.75" height="12.90" fill="url(#hatch)" stroke="none" stroke-width="1.4"/>
<line x1="105.50" y1="365.25" x2="112.00" y2="368.20" stroke="#555" stroke-width="0.7"/>
<line x1="105.50" y1="376.75" x2="111.50" y2="374.00" stroke="#555" stroke-width="0.7"/>
<line x1="131.75" y1="419.50" x2="130.30" y2="423.20" stroke="#555" stroke-width="0.7"/>
<text x="97.56" y="367.80" font-size="9.8" textLength="6.04" lengthAdjust="spacingAndGlyphs" fill="#111" stroke="#111" stroke-width="0.4" font-weight="normal">D</text>
<text x="97.68" y="380.50" font-size="9.6" textLength="5.62" lengthAdjust="spacingAndGlyphs" fill="#111" stroke="#111" stroke-width="0.4" font-weight="normal">E</text>
<text x="126.56" y="432.30" font-size="9.8" textLength="6.01" lengthAdjust="spacingAndGlyphs" fill="#111" stroke="#111" stroke-width="0.4" font-weight="normal">C</text>
<text x="160.11" y="434.80" font-size="9.6" textLength="9.25" lengthAdjust="spacingAndGlyphs" fill="#111" stroke="#111" stroke-width="0.4" font-weight="normal">B2</text>
<path d="M196.25,349.6 H181.1 V442.25 H232.6 V437.25" fill="none" stroke="#7d7d7d" stroke-width="0.9" />
<rect x="196.25" y="341.75" width="47.35" height="95.50" fill="none" stroke="#7d7d7d" stroke-width="1"/>
<text x="233.33" y="350.80" font-size="9.4" textLength="9.05" lengthAdjust="spacingAndGlyphs" fill="#111" stroke="#111" stroke-width="0.4" font-weight="normal">MI</text>
<rect x="202.00" y="382.00" width="3.75" height="12.75" fill="url(#hatch)" stroke="none" stroke-width="1.4"/>
<rect x="207.10" y="382.00" width="3.80" height="12.75" fill="url(#hatch)" stroke="none" stroke-width="1.4"/>
<rect x="212.00" y="382.00" width="4.00" height="12.75" fill="url(#hatch)" stroke="none" stroke-width="1.4"/>
<line x1="203.00" y1="395.00" x2="202.00" y2="400.60" stroke="#555" stroke-width="0.7"/>
<line x1="209.25" y1="395.00" x2="210.50" y2="400.60" stroke="#555" stroke-width="0.7"/>
<line x1="215.25" y1="395.00" x2="218.60" y2="400.60" stroke="#555" stroke-width="0.7"/>
<text x="198.72" y="409.80" font-size="9.8" textLength="6.81" lengthAdjust="spacingAndGlyphs" fill="#111" stroke="#111" stroke-width="0.4" font-weight="normal">G</text>
<text x="207.26" y="409.80" font-size="9.8" textLength="6.18" lengthAdjust="spacingAndGlyphs" fill="#111" stroke="#111" stroke-width="0.4" font-weight="normal">H</text>
<line x1="218.50" y1="402.60" x2="218.50" y2="409.80" stroke="#222" stroke-width="1"/>
<rect x="184.50" y="406.00" width="3.50" height="13.40" fill="none" stroke="#7d7d7d" stroke-width="1"/>
<rect x="189.50" y="406.00" width="3.50" height="13.40" fill="none" stroke="#7d7d7d" stroke-width="1"/>
<rect x="184.00" y="425.60" width="9.40" height="11.50" fill="url(#hatch)" stroke="none" stroke-width="1.4"/>
<line x1="190.50" y1="437.50" x2="193.60" y2="442.80" stroke="#555" stroke-width="0.7"/>
<text x="190.49" y="451.90" font-size="9.8" textLength="6.01" lengthAdjust="spacingAndGlyphs" fill="#111" stroke="#111" stroke-width="0.4" font-weight="normal">H</text>
</svg></body></html>
